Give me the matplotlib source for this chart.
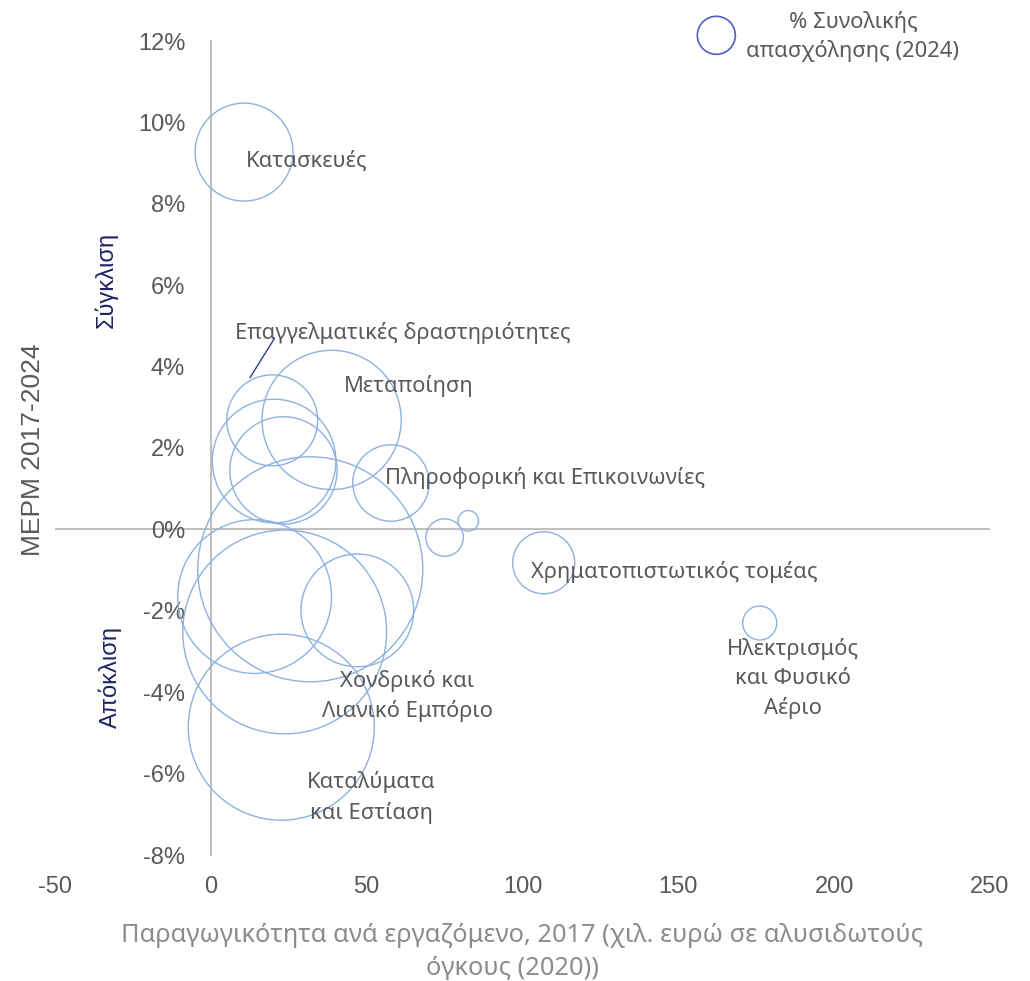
import matplotlib
matplotlib.use('Agg')
import matplotlib.pyplot as plt
from matplotlib.ticker import FuncFormatter
import numpy as np

plt.rcParams['font.family'] = ['Noto Sans', 'DejaVu Sans']

# ---------------- data ----------------
sectors = [
    'Κατασκευές',
    'Επαγγελματικές δραστηριότητες',
    'Μεταποίηση',
    'Τομέας Γ',
    'Τομέας Δ',
    'Πληροφορική και Επικοινωνίες',
    'Τομέας ΣΤ',
    'Τομέας Ζ',
    'Τομέας Η',
    'Χονδρικό και Λιανικό Εμπόριο',
    'Καταλύματα και Εστίαση',
    'Τομέας Κ',
    'Τομέας Λ',
    'Χρηματοπιστωτικός τομέας',
    'Ηλεκτρισμός και Φυσικό Αέριο',
]
productivity_2017 = [10.65, 19.7, 38.75, 20.3, 23.3, 57.8, 31.9, 14.05, 23.7, 47.0, 22.6, 75.0, 82.6, 106.8, 176.1]
cagr_2017_2024 = [9.27, 2.68, 2.69, 1.68, 1.45, 1.14, -0.98, -1.65, -2.52, -1.99, -4.86, -0.20, 0.21, -0.82, -2.30]
employment_share_2024 = [3.41, 2.94, 6.89, 5.43, 4.09, 2.08, 18.0, 8.41, 14.77, 4.52, 12.3, 0.50, 0.15, 1.37, 0.41]

x_ticks = [-50, 0, 50, 100, 150, 200, 250]
y_ticks = [-8, -6, -4, -2, 0, 2, 4, 6, 8, 10, 12]

# ---------------- style ----------------
DPI = 100
W, H = 1030, 981
BUBBLE_EDGE = '#8EB1E0'
TICK_COLOR = '#595959'
XTITLE_COLOR = '#8C8C8C'
NAVY = '#1F2463'
AXIS_COLOR = '#C0C0C0'
FS = 15.8           # data labels
TICK_FS = 17
ARIAL = ['Liberation Sans', 'DejaVu Sans']
R_MAX_PX = 112.5
DY = -0.075         # small vertical nudge for label text

fig = plt.figure(figsize=(W / DPI, H / DPI), dpi=DPI)
fig.patch.set_facecolor('white')
ax = fig.add_axes([55 / W, 1 - 855 / H, 935 / W, 814 / H])
ax.set_xlim(-50, 250)
ax.set_ylim(-8, 12)

emp = np.array(employment_share_2024)
r_px = R_MAX_PX * np.sqrt(emp / emp.max())
sizes = (2 * r_px * 72 / DPI) ** 2
ax.scatter(productivity_2017, cagr_2017_2024, s=sizes, facecolors='none',
           edgecolors=BUBBLE_EDGE, linewidths=1.0, zorder=3, clip_on=False)

# axes lines
for s in ['top', 'right', 'bottom']:
    ax.spines[s].set_visible(False)
ax.spines['left'].set_position(('data', 0))
ax.spines['left'].set_color(AXIS_COLOR)
ax.spines['left'].set_linewidth(1.5)
ax.axhline(0, color=AXIS_COLOR, lw=1.5, zorder=1)

ax.set_xticks(x_ticks)
ax.set_yticks(y_ticks)
ax.yaxis.set_major_formatter(FuncFormatter(lambda v, p: f'{int(v)}%'))
ax.xaxis.set_major_formatter(FuncFormatter(lambda v, p: f'{int(v)}'))
ax.tick_params(axis='y', length=0, pad=18.5, labelsize=TICK_FS, labelcolor=TICK_COLOR)
ax.tick_params(axis='x', length=0, pad=15, labelsize=TICK_FS, labelcolor=TICK_COLOR)
for t in ax.get_xticklabels() + ax.get_yticklabels():
    t.set_family(ARIAL)

# data labels
def lab(x, y, txt, ha='center'):
    ax.text(x, y + DY, txt, ha=ha, va='center', fontsize=FS, color=TICK_COLOR,
            linespacing=1.5, zorder=5)

lab(11.1, 9.12, 'Κατασκευές', ha='left')
lab(61.7, 4.91, 'Επαγγελματικές δραστηριότητες')
lab(63.4, 3.61, 'Μεταποίηση')
lab(56.0, 1.33, 'Πληροφορική και Επικοινωνίες', ha='left')
lab(102.8, -0.96, 'Χρηματοπιστωτικός τομέας', ha='left')
lab(186.9, -3.59, 'Ηλεκτρισμός\nκαι Φυσικό\nΑέριο')
lab(63.1, -4.02, 'Χονδρικό και\nΛιανικό Εμπόριο')
lab(51.4, -6.51, 'Καταλύματα\nκαι Εστίαση')

# leader line
ax.plot([12.58, 20.38], [3.73, 4.69], color='#2E3E90', lw=1.0, zorder=4)

# convergence / divergence notes
fig.text(106 / W, 1 - 280 / H, 'Σύγκλιση', rotation=90, ha='center', va='center',
         fontsize=TICK_FS, color=NAVY, family=ARIAL)
fig.text(110 / W, 1 - 677 / H, 'Απόκλιση', rotation=90, ha='center', va='center',
         fontsize=TICK_FS, color=NAVY, family=ARIAL)

# axis titles
fig.text(33 / W, 1 - 450 / H, 'ΜΕΡΜ 2017-2024', rotation=90, ha='center', va='center',
         fontsize=19, color=TICK_COLOR, family=ARIAL)
fig.text(522 / W, 1 - 935 / H,
         'Παραγωγικότητα ανά εργαζόμενο, 2017 (χιλ. ευρώ σε αλυσιδωτούς',
         ha='center', va='center', fontsize=18.3, color=XTITLE_COLOR)
fig.text(512 / W, 1 - 968 / H, 'όγκους (2020))',
         ha='center', va='center', fontsize=18.3, color=XTITLE_COLOR)

# legend
leg_r = 19
ax.scatter([162.2], [12.14], s=[(2 * leg_r * 72 / DPI) ** 2], facecolors='none',
           edgecolors='#4F5DC5', linewidths=1.2, clip_on=False, zorder=5)
fig.text(853 / W, 1 - 36.5 / H, '% Συνολικής\nαπασχόλησης (2024)', ha='center', va='center',
         fontsize=FS, color=TICK_COLOR, linespacing=1.4)

fig.savefig('out.png', dpi=DPI, facecolor='white')
